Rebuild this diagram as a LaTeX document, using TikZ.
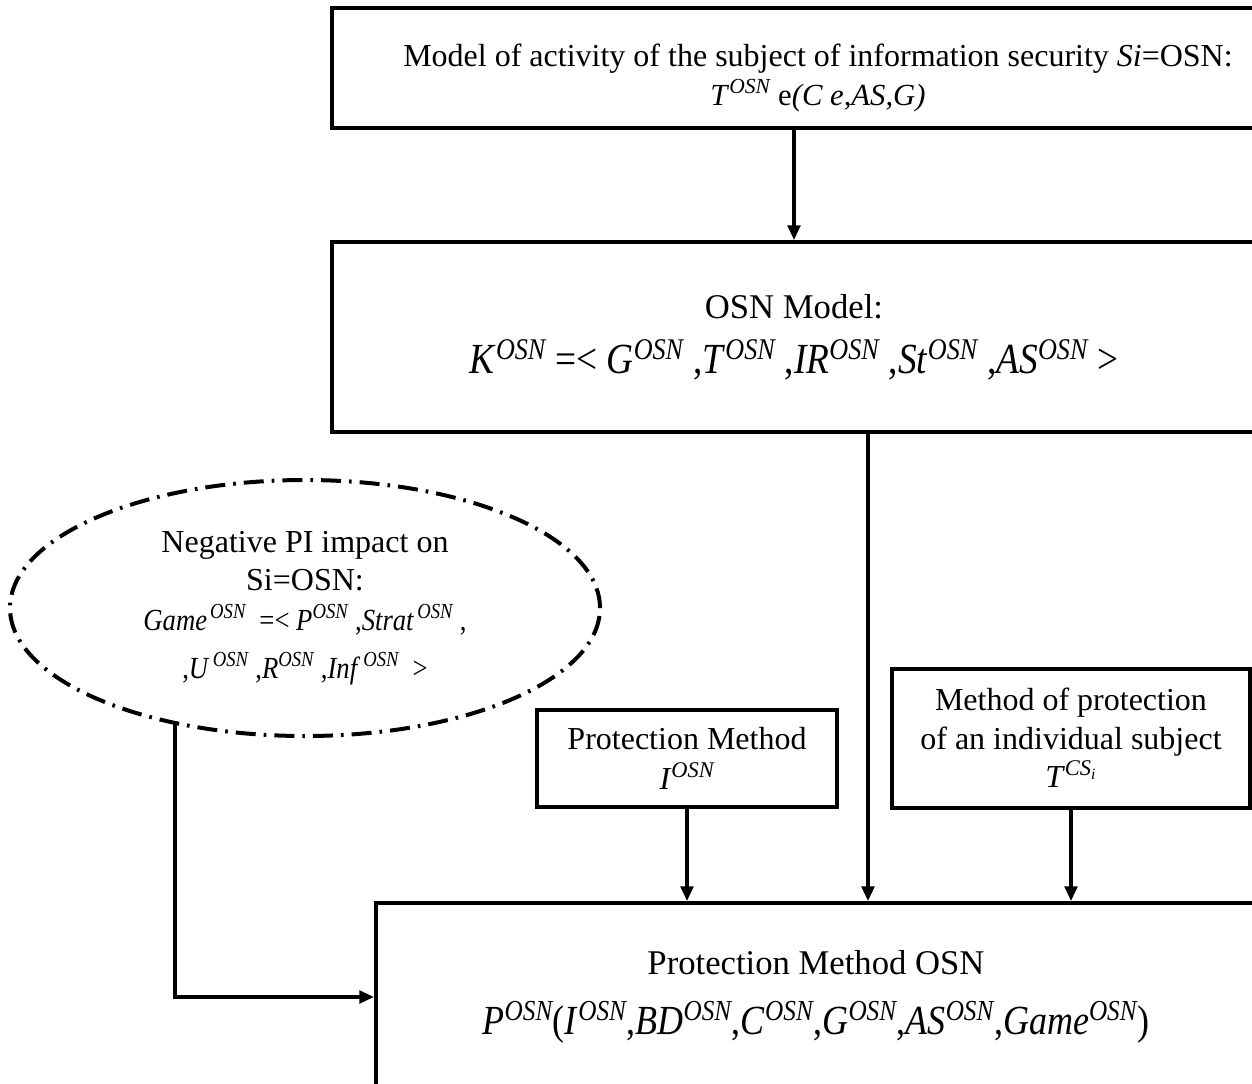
\documentclass[tikz,border=0pt]{standalone}
\usepackage{fontspec}
\usepackage{graphicx}
\setmainfont{Liberation Serif}
\usetikzlibrary{arrows.meta,shapes.geometric}
% italic symbol with an italic OSN superscript
\newcommand{\osn}[1]{\textit{#1}\textsuperscript{\itshape OSN}}
\newcommand{\osng}[1]{\textit{#1}\textsuperscript{\itshape\,OSN}}
% formulas are set slightly taller than wide
\newcommand{\tallf}[1]{\scalebox{1}[1.15]{#1}}
\begin{document}
\begin{tikzpicture}[x=0.75pt,y=-0.75pt,
  box/.style={draw,line width=3pt,rectangle,align=center,inner sep=0pt},
  arr/.style={line width=2.5pt,-{Triangle[length=11pt,width=9.5pt]}}]
\useasboundingbox (0,0) rectangle (1252,1083);
\clip (0,0) rectangle (1252,1083);

% upper chain of models
\node[box,minimum width=968*0.75pt,minimum height=120*0.75pt] (top) at (816,68) {};
\node[align=center,inner sep=0pt,font=\fontsize{24}{29}\selectfont] (toptext) at (818,78)
  {Model of activity of the subject of information security \textit{Si}=OSN:\\
   {\fontsize{23}{29}\selectfont\osn{T} e\textit{(C e,AS,G)}}};

\node[box,minimum width=924*0.75pt,minimum height=190*0.75pt,
  font=\fontsize{26}{41}\selectfont] (osn) at (794,337)
  {OSN Model:\\
   {\fontsize{28}{41}\selectfont\tallf{\osn{K} =\textless{} \osn{G} ,\osn{T} ,\osn{IR} ,\osn{St} ,\osn{AS} \textgreater}}};

% negative impact of the adversary
\node[draw,ellipse,line width=3pt,dash pattern=on 15pt off 6pt on 2pt off 6pt,
  minimum width=590*0.75pt,minimum height=256*0.75pt,align=center,inner sep=0pt,
  font=\fontsize{24}{28}\selectfont] (ell) at (305,608)
  {Negative PI impact on\\ Si=OSN:\\[2pt]
   {\fontsize{20}{30}\selectfont\tallf{\osng{Game}\ \ =\textless\ \osn{P}\ ,\osng{Strat}\ ,}}\\[8pt]
   {\fontsize{20}{30}\selectfont\tallf{,\osng{U}\ ,\osn{R}\ ,\osng{Inf}\ \ \textgreater}}};

% protection methods
\node[box,minimum width=300*0.75pt,minimum height=97*0.75pt,
  font=\fontsize{24}{30}\selectfont] (pm) at (687,758)
  {Protection Method\\ \osn{I}};

\node[box,minimum width=358*0.75pt,minimum height=139*0.75pt,
  font=\fontsize{24}{29}\selectfont] (ind) at (1071,738)
  {Method of protection\\ of an individual subject\\
   \textit{T}\textsuperscript{\itshape CS\textsubscript{\itshape i}}};

\node[box,minimum width=880*0.75pt,minimum height=188*0.75pt,
  font=\fontsize{26}{45}\selectfont] (bot) at (816,997)
  {Protection Method OSN\\
   {\fontsize{27}{45}\selectfont\tallf{\osn{P}(\osn{I},\osn{BD},\osn{C},\osn{G},\osn{AS},\osn{Game})}}};

% connectors
\coordinate (mid) at (868,0);
\coordinate (g1) at (175,721);
\draw[arr] (osn.north |- top.south) -- (osn.north);
\draw[arr] (osn.south -| mid) -- (bot.north -| mid);
\draw[arr] (pm.south) -- (bot.north -| pm.south);
\draw[arr] (ind.south) -- (bot.north -| ind.south);
\draw[arr] (g1) |- (bot.west);
\end{tikzpicture}
\end{document}
